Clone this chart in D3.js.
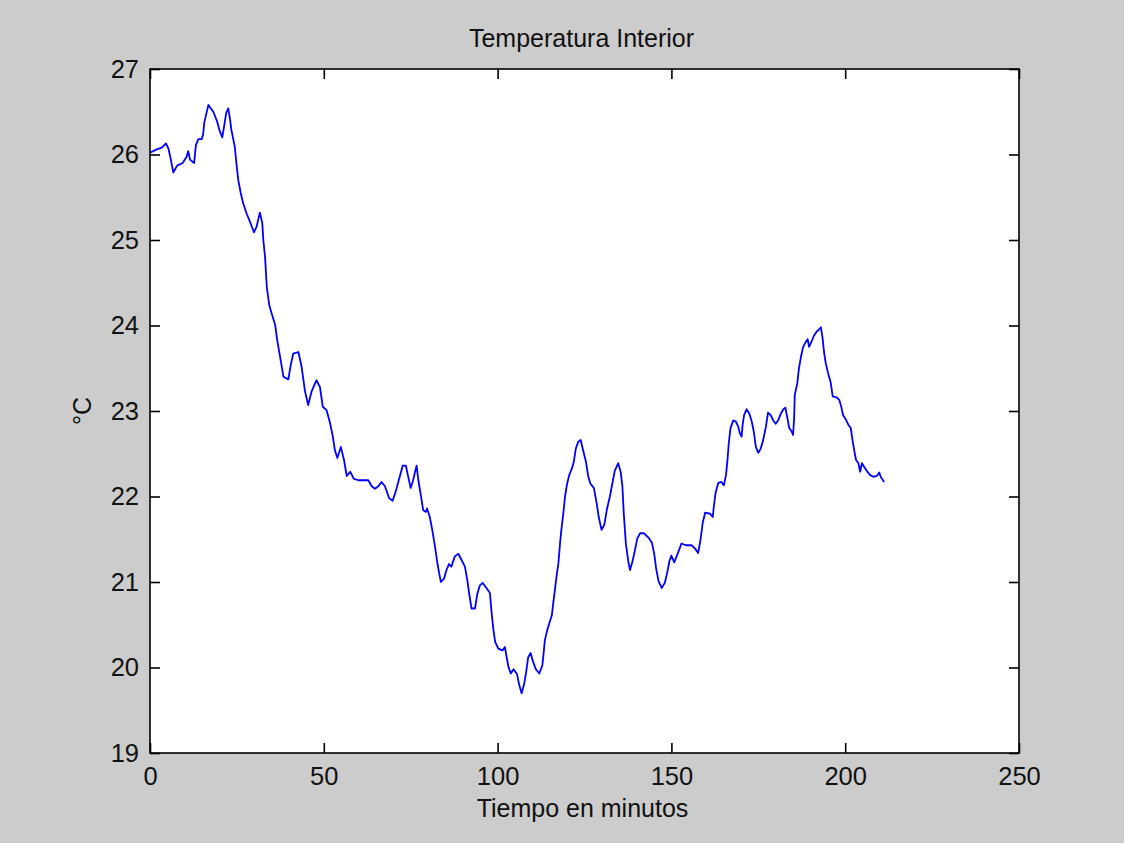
<!DOCTYPE html>
<html>
<head>
<meta charset="utf-8">
<script src="https://cdn.jsdelivr.net/npm/d3@7"></script>
<style>
  html, body { margin: 0; padding: 0; background: #cccccc; }
  svg { display: block; }
  text { font-family: "Liberation Sans", Arial, Helvetica, sans-serif; fill: #111; }
</style>
</head>
<body>
<svg id="chart" width="1124" height="843"></svg>
<script>
// Indoor temperature log: [minute, °C]
const readings = [
  [0,26.02],[1.9,26.06],[3.4,26.08],[4.6,26.13],[5.3,26.07],[5.9,25.96],[6.7,25.79],[7.8,25.87],
  [9.4,25.90],[10.5,25.97],[11,26.04],[11.5,25.94],[12.7,25.90],[13.2,26.11],[13.9,26.18],[14.9,26.18],
  [15.3,26.24],[15.6,26.37],[16.8,26.58],[18.2,26.50],[19.2,26.40],[20.1,26.27],[20.8,26.20],[21.4,26.35],
  [21.9,26.48],[22.5,26.54],[23,26.42],[23.4,26.29],[24.4,26.09],[24.9,25.88],[25.4,25.70],[26.1,25.55],
  [26.8,25.43],[27.8,25.31],[28.8,25.21],[29.9,25.09],[30.7,25.16],[31.6,25.32],[32.3,25.20],[32.6,25.0],
  [33.1,24.8],[33.6,24.45],[34.3,24.24],[35,24.14],[36,24.01],[36.6,23.83],[37.4,23.64],[38.4,23.40],
  [39.8,23.37],[40.5,23.54],[41.2,23.67],[42.7,23.69],[43.6,23.52],[44.6,23.23],[45.5,23.07],[46.5,23.23],
  [47.9,23.36],[48.9,23.28],[49.7,23.05],[50.8,23.01],[51.8,22.86],[52.6,22.70],[53.2,22.54],[53.9,22.45],
  [54.9,22.58],[55.8,22.43],[56.6,22.24],[57.6,22.29],[58.6,22.21],[59.9,22.19],[62.8,22.19],[63.8,22.12],
  [64.7,22.09],[65.7,22.12],[66.6,22.17],[67.6,22.12],[68.8,21.98],[69.8,21.95],[70.7,22.06],[71.7,22.21],
  [72.7,22.36],[73.6,22.36],[74.3,22.23],[75,22.10],[75.7,22.19],[76.2,22.28],[76.7,22.36],[77.2,22.19],
  [77.9,22.02],[78.6,21.84],[79.4,21.82],[79.7,21.86],[80.5,21.76],[81.2,21.61],[82,21.41],[82.6,21.24],
  [83.2,21.10],[83.7,21.0],[84.6,21.04],[85.3,21.14],[86,21.21],[86.7,21.18],[87.7,21.30],[88.7,21.33],
  [89.6,21.26],[90.6,21.18],[91.3,21.02],[91.8,20.87],[92.5,20.69],[93.5,20.69],[94.1,20.85],[94.9,20.96],
  [95.7,20.99],[96.8,20.93],[97.8,20.87],[98.3,20.63],[98.8,20.44],[99.3,20.30],[100.2,20.22],[101.4,20.20],
  [102.1,20.24],[102.6,20.12],[103.1,20.01],[103.8,19.93],[104.6,19.98],[105.6,19.92],[106.2,19.80],[106.9,19.70],
  [107.6,19.80],[108.2,19.94],[108.8,20.12],[109.5,20.17],[110.1,20.08],[111,19.98],[112,19.93],[112.9,20.03],
  [113.2,20.15],[113.6,20.32],[114.3,20.44],[114.9,20.52],[115.6,20.61],[116,20.75],[116.5,20.91],[117,21.08],
  [117.5,21.22],[118,21.47],[118.4,21.63],[118.9,21.80],[119.4,22.0],[120,22.15],[120.6,22.25],[121.3,22.32],
  [121.9,22.40],[122.5,22.56],[123.2,22.64],[123.9,22.66],[124.6,22.54],[125.4,22.41],[126.1,22.23],[126.7,22.15],
  [127.7,22.10],[128.5,21.92],[129.1,21.76],[129.9,21.61],[130.7,21.67],[131.5,21.86],[132.3,22.0],[133.1,22.17],
  [133.7,22.30],[134.7,22.39],[135.4,22.29],[135.9,22.12],[136.3,21.80],[136.9,21.45],[137.6,21.24],[138.1,21.14],
  [138.8,21.24],[139.5,21.37],[140.2,21.51],[141,21.57],[142.1,21.57],[143.4,21.52],[144.4,21.46],[145.1,21.32],
  [145.6,21.16],[146.3,21.01],[147.2,20.93],[148.1,20.99],[148.8,21.11],[149.4,21.24],[150,21.31],[150.8,21.23],
  [151.7,21.32],[152.9,21.45],[154.2,21.43],[155.8,21.43],[156.8,21.39],[157.7,21.34],[158.4,21.50],[159,21.69],
  [159.7,21.81],[161.1,21.80],[161.9,21.76],[162.2,21.88],[162.7,22.04],[163.5,22.16],[164.4,22.17],[165.1,22.13],
  [165.7,22.25],[166.1,22.41],[166.5,22.62],[167,22.80],[167.8,22.89],[168.5,22.88],[169.2,22.82],[169.7,22.74],
  [170.2,22.70],[170.5,22.84],[170.9,22.95],[171.6,23.02],[172.4,22.97],[173.1,22.88],[173.7,22.76],[174.3,22.58],
  [175,22.51],[175.7,22.56],[176.4,22.66],[177.2,22.82],[177.8,22.98],[178.6,22.95],[179.3,22.89],[180,22.85],
  [180.7,22.89],[181.5,22.97],[182.2,23.02],[182.8,23.04],[183.4,22.91],[183.9,22.80],[184.6,22.76],[185,22.72],
  [185.3,22.91],[185.5,23.19],[186.2,23.32],[186.7,23.50],[187.3,23.64],[187.9,23.75],[188.7,23.81],[189.2,23.84],
  [189.6,23.75],[190.3,23.81],[191,23.88],[191.8,23.93],[192.4,23.95],[193,23.98],[193.5,23.85],[193.9,23.69],
  [194.4,23.56],[195.1,23.44],[195.8,23.34],[196.4,23.17],[197.5,23.16],[198.3,23.13],[198.8,23.06],[199.4,22.95],
  [200.2,22.90],[200.9,22.84],[201.6,22.80],[202.1,22.66],[202.6,22.54],[203.1,22.43],[203.8,22.39],[204.3,22.29],
  [204.8,22.39],[205.4,22.35],[206.2,22.30],[207.2,22.25],[208.1,22.23],[209.1,22.24],[209.8,22.28],[210.2,22.23],
  [211.2,22.17]
];

const xTicks = [0, 50, 100, 150, 200, 250];
const yTicks = [19, 20, 21, 22, 23, 24, 25, 26, 27];
const xDomain = [0, 250];
const yDomain = [19, 27];

const titleText = "Temperatura Interior";
const xLabelText = "Tiempo en minutos";
const yLabelText = "°C";

// Plot frame
const margin = { left: 150, top: 69, right: 1124 - 1019, bottom: 843 - 753 };
const W = 1124, H = 843;
const iw = W - margin.left - margin.right;
const ih = H - margin.top - margin.bottom;

const svg = d3.select("#chart");
svg.append("rect").attr("width", W).attr("height", H).attr("fill", "#cccccc");

const g = svg.append("g").attr("transform", `translate(${margin.left},${margin.top})`);

const x = d3.scaleLinear().domain(xDomain).range([0, iw]);
const y = d3.scaleLinear().domain(yDomain).range([ih, 0]);

g.append("rect").attr("width", iw).attr("height", ih).attr("fill", "#ffffff");

const fontSize = 25;
const tickFontSize = 25.5;
const tickLen = 10;

function styleAxis(sel) {
  sel.select(".domain").remove();
  sel.selectAll(".tick line").attr("stroke", "#000").attr("stroke-width", 1.6);
  sel.selectAll(".tick text").attr("font-size", tickFontSize).attr("fill", "#111");
}

// Bottom axis with inward ticks
g.append("g")
  .attr("transform", `translate(0,${ih})`)
  .call(d3.axisBottom(x).tickValues(xTicks).tickSizeInner(-tickLen).tickSizeOuter(0).tickPadding(14))
  .call(styleAxis);

// Top mirror ticks
g.append("g")
  .call(d3.axisTop(x).tickValues(xTicks).tickSizeInner(-tickLen).tickSizeOuter(0).tickFormat(""))
  .call(styleAxis);

// Left axis with inward ticks
g.append("g")
  .call(d3.axisLeft(y).tickValues(yTicks).tickSizeInner(-tickLen).tickSizeOuter(0).tickPadding(11))
  .call(styleAxis);

// Right mirror ticks
g.append("g")
  .attr("transform", `translate(${iw},0)`)
  .call(d3.axisRight(y).tickValues(yTicks).tickSizeInner(-tickLen).tickSizeOuter(0).tickFormat(""))
  .call(styleAxis);

// Temperature trace
const line = d3.line().x(d => x(d[0])).y(d => y(d[1]));
g.append("path")
  .datum(readings)
  .attr("d", line)
  .attr("fill", "none")
  .attr("stroke", "#0000ff")
  .attr("stroke-width", 1.8)
  .attr("stroke-linejoin", "round");

// Frame
g.append("rect")
  .attr("width", iw).attr("height", ih)
  .attr("fill", "none")
  .attr("stroke", "#000")
  .attr("stroke-width", 1.6);

// Title and axis labels
svg.append("text")
  .attr("x", margin.left + iw / 2 - 3)
  .attr("y", 47)
  .attr("text-anchor", "middle")
  .attr("font-size", fontSize)
  .text(titleText);

svg.append("text")
  .attr("x", margin.left + iw / 2 - 2)
  .attr("y", 817)
  .attr("text-anchor", "middle")
  .attr("font-size", fontSize)
  .text(xLabelText);

svg.append("text")
  .attr("transform", `translate(91,${margin.top + ih / 2}) rotate(-90)`)
  .attr("text-anchor", "middle")
  .attr("font-size", fontSize)
  .text(yLabelText);
</script>
</body>
</html>
